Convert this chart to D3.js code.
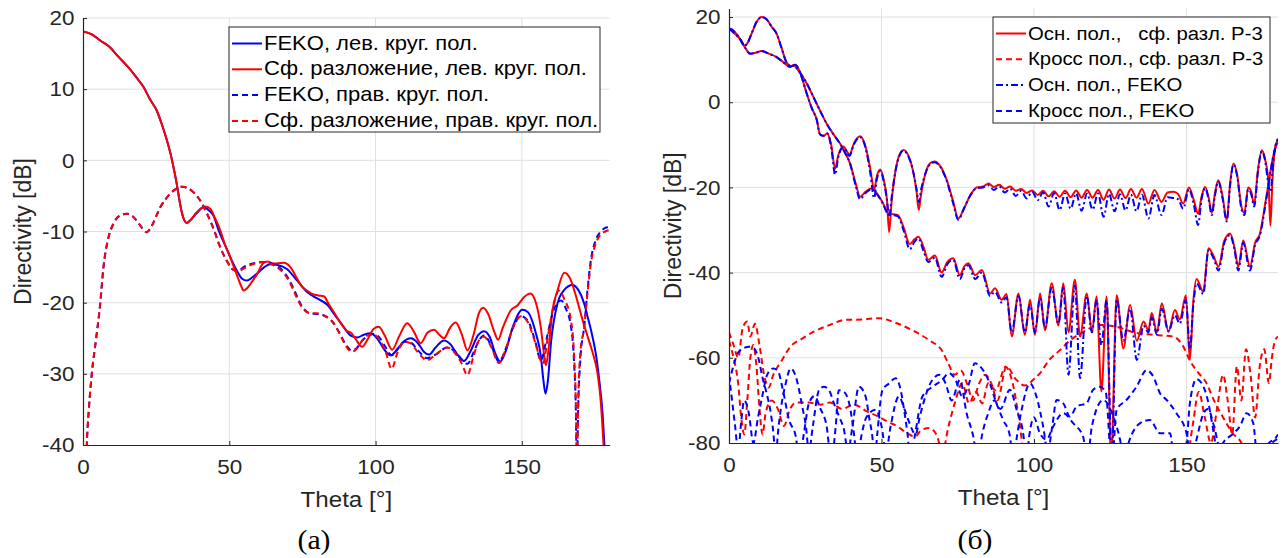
<!DOCTYPE html>
<html>
<head>
<meta charset="utf-8">
<script src="https://cdn.jsdelivr.net/npm/d3@7"></script>
<style>
body { margin: 0; background: #fff; }
svg { display: block; font-family: "Liberation Sans", Arial, sans-serif; }
</style>
</head>
<body>
<svg id="chart" width="1286" height="558"></svg>
<script>
// ---- tick labels ----
var thetaTicks = [0, 50, 100, 150];
var leftDbTicks = [-40, -30, -20, -10, 0, 10, 20];
var rightDbTicks = [-80, -60, -40, -20, 0, 20];

var leftLegend = ['FEKO, лев. круг. пол.', 'Сф. разложение, лев. круг. пол.',
                  'FEKO, прав. круг. пол.', 'Сф. разложение, прав. круг. пол.'];
var rightLegend = ['Осн. пол.,   сф. разл. Р-3', 'Кросс пол., сф. разл. Р-3',
                   'Осн. пол., FEKO', 'Кросс пол., FEKO'];

// ---- (a) left panel: [theta deg, dB] ----
var fekoLeftCirc = [[0,18.1],[3,17.7],[6,16.8],[9.2,15.9],[12,14.6],[15,13.3],[18,11.8],[20.7,10.3],[23,8.5],[25.2,7.0],[27,5.0],[28.7,2.8],[30,0.8],[30.9,-0.9],[32,-3.2],[32.8,-5.2],[33.7,-7.2],[34.6,-8.4],[35.5,-8.8],[36.5,-8.5],[38.9,-7.4],[41.2,-6.6],[43,-7.0],[44.6,-7.8],[46.5,-10],[49.2,-12.5],[51,-14.2],[52.6,-15.5],[54.3,-16.6],[56,-16.9],[57.7,-16.5],[59.5,-15.9],[62,-15.0],[64,-14.6],[66.5,-14.7],[69.8,-15.3],[73,-16.8],[76.6,-18.5],[80,-19.4],[83.5,-20.3],[86,-21.7],[89.1,-23.4],[91.4,-24.6],[93.7,-24.9],[96,-24.5],[98.3,-24.3],[100.5,-25.0],[103,-26.6],[105.1,-27.4],[107,-26.8],[109.5,-25.5],[112,-25.0],[114.5,-25.7],[116.5,-26.9],[118.3,-27.3],[120.5,-26.3],[123.4,-25.3],[125.5,-25.8],[128,-27.3],[130.2,-28.2],[132.5,-26.8],[135,-24.6],[137.1,-24.0],[139,-24.8],[141,-27.2],[142.6,-28.3],[144.5,-26.8],[147,-23.3],[150.2,-21.0],[152,-21.3],[154.8,-24.3],[156.5,-27.5],[157.4,-31.0],[158.1,-32.8],[158.9,-31.0],[160,-25.5],[162.2,-20.1],[164.5,-18.2],[167.3,-17.5],[169.3,-18.2],[171.3,-20.1],[172.5,-22.0],[174,-24.5],[175.3,-27.2],[176.5,-31.0],[177.6,-35.6],[178.3,-40.5],[179,-46]];

var sphLeftCirc = [[0,18.1],[3,17.7],[6,16.8],[9.2,15.9],[12,14.6],[15,13.3],[18,11.8],[20.7,10.3],[23,8.5],[25.2,7.0],[27,5.0],[28.7,2.8],[30,0.8],[30.9,-0.9],[32,-3.2],[32.8,-5.2],[33.7,-7.2],[34.6,-8.4],[35.5,-8.8],[36.5,-8.5],[38.9,-7.3],[41.8,-6.5],[43.5,-6.8],[45,-8.0],[46.9,-9.8],[48.5,-11.8],[50.3,-13.6],[52.5,-16.0],[54,-17.6],[54.9,-18.3],[56,-18.0],[57.5,-17.2],[59.5,-16.0],[61.3,-14.6],[62.9,-14.2],[65,-14.5],[68.6,-14.4],[70.9,-15.0],[73,-16.5],[75,-17.8],[76.6,-18.3],[78.5,-18.8],[80.5,-19.0],[82.3,-19.1],[84,-20.2],[85.7,-21.3],[88,-22.8],[90.3,-24.0],[91.5,-24.2],[93,-25.0],[95.4,-26.2],[97.5,-25.0],[99.3,-23.7],[101.1,-23.4],[103,-24.5],[105.7,-26.6],[108,-24.8],[110.8,-22.9],[113,-24.0],[115.4,-25.7],[117.8,-24.2],[120,-23.8],[121.8,-24.5],[123.4,-25.0],[125.5,-23.5],[127.4,-22.8],[129.5,-24.5],[131.4,-26.7],[133.5,-24.5],[135.3,-21.5],[136.8,-20.7],[138.5,-21.6],[140.5,-24.0],[141.9,-25.2],[143.5,-23.5],[146.2,-21.1],[148.5,-20.4],[150.8,-19.2],[152.9,-18.7],[154.8,-20.0],[156.5,-23.5],[157.5,-27.0],[158.2,-28.8],[159,-27.0],[160.5,-21.0],[162.2,-18.3],[164.5,-15.8],[166.5,-16.6],[168.8,-19.5],[170.8,-22.5],[172.3,-24.5],[173.6,-26.2],[175,-28.2],[175.9,-30.0],[177,-34.0],[177.9,-39.8],[178.6,-45]];

var fekoRightCirc = [[0.9,-46],[1.3,-40],[2,-35],[3,-30],[4.5,-25],[5.8,-20.5],[7,-15],[8.5,-11.2],[10.4,-8.9],[12.5,-7.8],[15,-7.5],[16.8,-7.8],[18.4,-8.5],[20.2,-9.5],[21.8,-10.1],[23.5,-9.2],[26.4,-6.6],[29.8,-4.7],[31.8,-4.0],[33.8,-3.7],[35.8,-3.9],[37.8,-4.5],[40,-5.6],[42.4,-7.5],[44.8,-9.8],[46.9,-12.2],[49,-14.0],[51.5,-15.4],[53,-15.5],[54.9,-15.0],[58,-14.5],[61.7,-14.3],[64.5,-14.5],[67.5,-15.2],[70.5,-16.8],[72.5,-18.5],[74.3,-20.1],[77.7,-21.5],[80,-21.6],[82.3,-21.8],[85.7,-22.9],[88,-24.5],[90,-26.0],[91.8,-26.7],[93.5,-26.4],[95.5,-25.3],[98,-24.5],[99.4,-24.4],[101.5,-25.0],[103.5,-26.3],[105.5,-27.4],[107.5,-26.5],[110,-25.5],[112,-25.6],[114.5,-26.7],[117.6,-27.8],[120.5,-27.3],[124.5,-26.3],[127,-26.8],[129.5,-28.0],[131.4,-28.6],[133.5,-27.0],[135.5,-25.2],[137.1,-24.6],[139.5,-26.0],[142.2,-28.3],[144.5,-26.5],[147,-23.5],[149.7,-21.9],[152,-22.5],[154.5,-25.3],[156.5,-28.1],[158.5,-25.0],[160.5,-21.5],[163.4,-19.7],[165,-20.8],[166.8,-23.4],[167.8,-28],[168.5,-36],[168.8,-45],[169.2,-36],[170,-28],[171.3,-23.4],[172.5,-18],[173.6,-14],[175,-11.5],[177,-10],[178.5,-9.5],[180,-9.3]];

var sphRightCirc = [[0.9,-46],[1.3,-40],[2,-35],[3,-30],[4.5,-25],[5.8,-20.5],[7,-15],[8.5,-11.2],[10.4,-8.9],[12.5,-7.8],[15,-7.5],[16.8,-7.8],[18.4,-8.5],[20.2,-9.5],[21.8,-10.1],[23.5,-9.2],[26.4,-6.6],[29.8,-4.7],[31.8,-4.0],[33.8,-3.7],[35.8,-3.9],[37.8,-4.5],[40,-5.6],[42.4,-7.5],[44.8,-9.8],[46.9,-12.2],[49,-14.0],[51.5,-15.4],[53,-15.6],[54.9,-15.2],[58,-14.6],[61.7,-14.3],[64.5,-14.6],[67.5,-15.4],[70.5,-17.0],[72.5,-18.8],[74.3,-20.3],[77.7,-21.5],[80,-21.5],[82.3,-21.8],[85.7,-22.9],[88,-24.6],[90,-26.2],[91.8,-26.9],[93.5,-26.5],[95.5,-25.3],[98,-24.5],[99.4,-24.5],[101.5,-25.3],[103.5,-27.0],[105.5,-29.3],[107.5,-27.0],[110,-25.5],[112,-25.7],[114.5,-27.0],[117.6,-28.1],[120.5,-27.3],[124.5,-26.3],[127,-27.0],[129.5,-28.6],[131.4,-30.2],[133.5,-27.5],[135.5,-25.2],[137.1,-24.8],[139.5,-26.2],[142.2,-28.5],[144.5,-26.5],[147,-23.5],[149.7,-21.9],[152,-22.7],[154.5,-25.5],[157.2,-28.6],[159,-24.5],[160.8,-20.5],[162.7,-18.3],[164.5,-19.5],[166.8,-22.5],[167.8,-27],[168.5,-35],[168.8,-45],[169.2,-35],[170,-27],[171.3,-23.5],[172.5,-18.5],[173.6,-14.5],[175,-12],[177,-10.4],[178.5,-10],[180,-9.8]];

// ---- (б) right panel: two cuts for each series ----
var coSphCutA = [[0,17.3],[1.5,16.8],[3,15.5],[4,14.3],[5,13.2],[6,13.8],[7.5,16.3],[9,18.8],[10.7,20],[12.3,19.5],[14,17.7],[15.6,16.1],[17.2,12.8],[18.9,9.3],[20.3,8.5],[21.7,8.8],[22.7,8],[24,5.5],[25.5,2],[27.2,-1.5],[28.8,-4.2],[29.8,-7.5],[31,-7.9],[32.2,-7.3],[33.5,-10],[34.8,-15.6],[35.8,-12.5],[37.5,-10.4],[39.5,-12.3],[41,-9.6],[43,-8],[44.8,-10.5],[46.3,-15.5],[47.6,-20.5],[48.5,-17.3],[49.6,-15.8],[50.8,-18.5],[51.8,-23],[52.5,-30.5],[53.3,-23.5],[54.5,-16.5],[55.8,-12.5],[57.2,-11.2],[58.8,-12.5],[60.3,-16],[61.5,-21],[62.2,-25.3],[63,-21.5],[64.5,-16.5],[66,-14.3],[67.4,-13.9],[69.3,-15],[71.4,-18.3],[73.4,-23],[75.2,-27.3],[77,-25],[79,-22],[81.2,-20],[83.3,-19.8],[85.1,-19.1],[86.8,-19.9],[88.6,-19.4],[90.4,-20.3],[92.2,-19.8],[94,-20.8],[95.8,-20.4],[97.6,-21.3],[99.4,-20.7],[101.2,-21.8],[103,-20.8],[104.8,-22.1],[106.6,-20.9],[108.4,-22.2],[110.2,-20.8],[112,-22.3],[113.8,-20.7],[115.6,-22.4],[117.4,-20.6],[119.2,-22.4],[121,-20.6],[122.8,-22.9],[124.6,-20.5],[126.4,-22.6],[128.2,-20.5],[130,-22.5],[131.8,-20.4],[133.6,-22.4],[135.4,-20.4],[137.5,-23.8],[139.5,-20.6],[141.8,-23.4],[143.8,-21.2],[145.7,-21],[147.3,-21.6],[148.9,-23.8],[150.8,-20],[152.4,-23],[153.8,-26.2],[155,-22],[156.1,-19.9],[157.3,-22.5],[158.3,-26],[159.3,-21.5],[160.4,-18.3],[161.8,-22],[163.2,-27.7],[164.3,-19],[165.4,-14.4],[166.6,-17],[168,-24.5],[169,-26],[170.2,-20],[171.2,-21],[172.2,-24],[173.4,-16],[174.7,-11.3],[175.8,-13.5],[176.9,-19],[177.5,-29],[178.2,-18],[179,-11],[180,-8.7]];

var coSphCutB = [[0,17.3],[2,16],[3.6,14.9],[5.3,12.8],[6.9,11.4],[8.7,11.6],[10.7,12],[13,11.4],[15.6,10.6],[17.8,9.4],[20,8.3],[21.3,8.6],[22.7,7.5],[25.5,4.4],[28.3,0.3],[30,-2.2],[32,-5],[34.2,-7.5],[36.4,-9.7],[38,-11.8],[39.7,-14.4],[41.5,-19],[43,-22.2],[44.8,-21],[46.8,-20.2],[48.6,-21.5],[50.5,-23.7],[52.2,-26.1],[53.8,-26.3],[55.4,-26.5],[57.2,-29.3],[59.3,-33.3],[60.8,-32.2],[62.1,-31.6],[63.8,-34],[65.3,-37],[67.5,-36],[69.7,-40],[71.6,-37.5],[73.5,-36.6],[75.7,-40.6],[77.2,-38.5],[78.5,-37.8],[80.7,-40.6],[82.9,-39.4],[85.6,-44.9],[87.2,-43.7],[89.4,-46.4],[91,-45],[92.7,-55],[94.9,-44.9],[97,-54.6],[98.7,-46.4],[100.3,-54.6],[102,-44.9],[103.6,-53.5],[105.8,-42.5],[108,-52.4],[109.6,-42.5],[111.3,-54],[113.4,-41.7],[115.1,-55],[117.3,-44.9],[119,-54],[120.5,-45.6],[122.1,-67.9],[123.8,-45.6],[125.3,-84],[127.1,-45.3],[129.3,-57.8],[131.5,-47.6],[133.7,-56],[135.9,-51.5],[137.5,-53.5],[138.6,-49.5],[140.3,-54],[141.9,-47.2],[144.1,-53.8],[146.2,-48.8],[147.8,-51],[149.8,-45.3],[151.1,-60.5],[152.2,-47],[153.3,-41.5],[155.5,-44.5],[157.2,-34.3],[158.8,-36],[160.5,-38.6],[162.4,-32.5],[164.3,-30.8],[165.7,-34],[167,-38.6],[168.6,-32.4],[170.8,-38.6],[172.5,-33],[174.1,-30.8],[176,-23],[178.5,-12.5],[180,-8.8]];

var coFekoCutA = [[0,17.3],[1.5,16.8],[3,15.5],[4,14.3],[5,13.2],[6,13.8],[7.5,16.3],[9,18.8],[10.7,20],[12.3,19.5],[14,17.7],[15.6,16.1],[17.2,12.8],[18.9,9.3],[20.3,8.5],[21.7,8.8],[22.7,8],[24,5.5],[25.5,2],[27.2,-1.5],[28.8,-4.2],[29.8,-7.5],[31,-7.9],[32.2,-7.3],[33.5,-10.5],[34.8,-17],[35.8,-13],[37.5,-10.6],[39.5,-12.6],[41,-9.8],[43,-8.2],[44.8,-10.8],[46.3,-16.5],[47.6,-22.5],[48.5,-18],[49.6,-16.2],[50.8,-18.8],[51.8,-23],[52.5,-27],[53.3,-22.5],[54.5,-16.5],[55.8,-12.7],[57.2,-11.4],[58.8,-12.7],[60.3,-16],[61.5,-20.5],[62.2,-23.5],[63,-20.5],[64.5,-16.5],[66,-14.5],[67.4,-14.1],[69.3,-15.2],[71.4,-18.5],[73.4,-23.5],[75.2,-27.6],[77,-25],[79,-22],[81.2,-20.2],[83.3,-20],[85.1,-19.5],[86.8,-20.6],[88.6,-19.8],[90.4,-21.2],[92.2,-20.3],[94,-22],[95.8,-20.8],[97.6,-22.6],[99.4,-21],[101.2,-23],[103,-21.2],[104.8,-24.5],[106.6,-21.3],[108.4,-25.3],[110.2,-21.4],[112,-25],[113.8,-21.4],[115.6,-25.5],[117.4,-21.4],[119.2,-25.2],[121,-21.4],[122.8,-26.9],[124.6,-21.5],[126.4,-25.6],[128.2,-21.6],[130,-25.4],[131.8,-21.7],[133.6,-25.6],[135.4,-21.7],[137.5,-27.3],[139.5,-21.8],[141.8,-26.5],[143.8,-22.3],[145.7,-22.5],[147.3,-22.8],[148.9,-25],[150.8,-20.4],[152.4,-24],[153.8,-28.8],[155,-22.5],[156.1,-20.2],[157.3,-23],[158.3,-26.5],[159.3,-22],[160.4,-18.6],[161.8,-22.5],[163.2,-28],[164.3,-19.5],[165.4,-14.6],[166.6,-17.3],[168,-25],[169,-26.5],[170.2,-20.5],[171.2,-21.5],[172.2,-24.5],[173.4,-16.5],[174.7,-11.5],[175.8,-13.8],[176.9,-19.5],[177.6,-21],[178.3,-15],[179,-10.8],[180,-8.6]];

var coFekoCutB = [[0,17.3],[2,16],[3.6,14.9],[5.3,12.8],[6.9,11.4],[8.7,11.6],[10.7,12],[13,11.4],[15.6,10.6],[17.8,9.4],[20,8.3],[21.3,8.6],[22.7,7.5],[25.5,4.4],[28.3,0.3],[30,-2.2],[32,-5],[34.2,-7.5],[36.4,-9.7],[38,-11.8],[39.7,-14.4],[41.5,-19.5],[43,-22.8],[44.8,-21.3],[46.8,-20.4],[48.6,-21.7],[50.5,-23.9],[52.2,-26.3],[53.8,-26.5],[55.4,-26.8],[57.2,-30],[59.3,-34.5],[60.8,-32.8],[62.1,-32],[63.8,-35],[65.3,-37.5],[67.5,-36.5],[69.7,-41],[71.6,-38],[73.5,-37],[75.7,-41.5],[77.2,-39],[78.5,-38.3],[80.7,-41.5],[82.9,-40],[85.6,-45.5],[87.2,-44.5],[89.4,-47],[91,-45.8],[92.7,-54],[94.9,-45.5],[97,-54],[98.7,-47.5],[100.3,-54],[102,-46],[103.6,-53],[105.8,-43.5],[108,-52],[109.6,-43.5],[111.3,-64],[113.4,-43],[115.1,-64.8],[117.3,-45.5],[119,-54],[120.5,-46.5],[122.1,-57],[123.8,-46.5],[125.5,-84],[127.1,-46.3],[129.3,-56],[131.5,-48.5],[133.7,-60.5],[135.9,-52.5],[137.5,-54],[138.6,-50.5],[140.3,-54.5],[141.9,-48.5],[144.1,-53.8],[146.2,-50],[147.8,-52],[149.8,-46.5],[151.1,-58],[152.2,-48],[153.3,-42.5],[155.5,-45],[157.2,-34.8],[158.8,-36.5],[160.5,-39.5],[162.4,-33],[164.3,-31.2],[165.7,-34.5],[167,-39.5],[168.6,-33],[170.8,-39.5],[172.5,-33.5],[174.1,-31.2],[176,-23.5],[178.5,-12.5],[180,-8.8]];

var crossSphCutA = [[0,-54],[1.5,-57],[3,-60],[4.5,-53],[6,-51.5],[7,-55],[8.5,-52],[10,-57],[11.5,-64],[13,-67],[14.5,-64],[17,-61],[20,-57.5],[24,-55.5],[28,-53.8],[33,-52.3],[38,-51.1],[44,-51],[49,-50.7],[55,-51.9],[60,-53.5],[65.5,-55.8],[70,-58.5],[72,-61.5],[74,-64],[76,-63],[78,-66],[80,-70],[82,-66],[84,-64],[86,-66],[88,-70],[91,-62],[94,-65],[97,-66.5],[100,-65],[102,-63.6],[105,-60.5],[108.5,-58.2],[112,-55.8],[116,-54],[121.6,-52.3],[127,-52.7],[132.5,-54],[139,-54.6],[145.6,-55],[149,-57.4],[151,-60.5],[153.3,-63],[156.6,-66],[159,-70],[162,-74],[165,-77.6],[168,-80],[170,-84]];

var crossSphCutB = [[0,-56],[1.5,-60],[3,-66],[4,-74],[5,-78],[6,-70],[7,-60],[8,-57],[9,-62],[10,-72],[11,-78],[12,-73],[14,-70],[16,-72],[18,-76],[20,-72],[22,-70.5],[26,-70.5],[30,-71],[33,-70.5],[37,-72],[41,-71],[45,-72.5],[49,-73.8],[52,-75],[55,-76],[58,-77.5],[61,-78.5],[63,-77],[65.6,-76.5],[68,-78],[70,-82],[72,-76],[74,-70.7],[76.5,-66],[78.7,-70.7],[81,-68],[83,-70.7],[85,-66],[87.4,-67.6],[90.7,-62.1],[93,-66],[95,-74],[97,-84],[100,-88],[140,-88],[150,-84],[152,-76],[154,-68],[156,-74],[158,-80],[160,-72],[162,-64],[163.5,-70],[165,-78],[166.5,-62],[168,-70],[169.5,-58],[171,-64],[172.5,-74],[174,-62],[175.5,-58],[177,-66],[178,-60],[179,-56],[180,-55]];

var crossFekoCutA = [[0,-66],[1.1,-62.8],[3.3,-58.5],[6.6,-57.4],[8.2,-57.8],[9.8,-60.5],[10.9,-64.4],[12.6,-69.1],[13.7,-73],[14.6,-78],[15.3,-84],[16,-78],[17,-72],[18.6,-66],[20.2,-62.5],[21.9,-64.4],[23,-67.6],[24,-71.4],[25.2,-76],[26.2,-82],[27.5,-76],[29.5,-67.6],[31.1,-66.8],[32.8,-67.6],[34.4,-70.7],[36.1,-73.8],[37.7,-76.9],[39,-82],[40.5,-76],[42.6,-66.8],[44.8,-69.1],[45.9,-73.8],[47,-78.5],[47.8,-84],[48.6,-78],[50.3,-67.6],[52.5,-66],[54.6,-64.8],[56.3,-67.6],[57.4,-72.2],[58.5,-77.7],[59.5,-84],[61,-78],[63.4,-69.1],[66.7,-66.8],[69.9,-65.2],[72.1,-63.6],[74.3,-65.2],[76.5,-69.1],[78.7,-66],[80.6,-61.3],[83.3,-62.9],[85.5,-66],[87.7,-70.7],[89.9,-74.6],[92,-78],[93.2,-84],[94.5,-78],[96,-72],[98.7,-66],[100.8,-69.1],[103,-76.1],[104.5,-82],[106,-76],[107.4,-69.9],[109.6,-70.7],[111.8,-73.8],[114,-71.4],[117.2,-70.7],[119.4,-67.5],[121.6,-66.8],[123.5,-68],[125.5,-85],[127.1,-72.2],[130.3,-69.9],[133.6,-66.8],[136.9,-62.9],[139.1,-64.4],[141.3,-68.3],[143.5,-69.9],[146.7,-73],[150,-77.7],[151.5,-84],[153,-80],[155.6,-73],[157,-72],[159,-76],[161,-82],[162,-84],[163.5,-80],[165,-84],[167,-84],[169,-80],[171,-84],[175,-84],[178,-80],[180,-79]];

var crossFekoCutB = [[0,-64],[1,-70],[2,-76],[3,-82],[4,-75],[5,-70],[6.5,-73],[8,-80],[9.5,-74],[10.9,-69.1],[12.5,-64],[14.5,-62.5],[16,-63],[17.5,-67],[19.7,-74.6],[21.9,-78.5],[23,-84],[24.5,-78],[26.2,-70.7],[28,-69],[30,-72],[32,-76],[33.5,-84],[35,-76],[36,-67.6],[37.7,-68],[39.5,-71],[41,-78],[42,-84],[43.5,-78],[45,-74],[48.1,-72.2],[50,-76],[51.5,-82],[53,-76],[55.7,-69.1],[57.5,-72],[59,-75],[61.2,-78],[62.5,-74],[64,-70],[66,-66],[69,-64],[71,-66],[73,-70],[75.7,-65.2],[77.9,-73],[80.1,-78.5],[81.5,-84],[83,-78],[85,-73],[87,-70],[89,-72],[92.1,-67.5],[94.3,-72.2],[96.5,-78],[97.5,-84],[98.5,-78],[100,-74],[101.9,-77.7],[104.1,-79.2],[106.3,-76.1],[109.6,-73],[112.9,-75.4],[116.1,-78.5],[117.5,-84],[119,-76],[122.7,-69.9],[126,-73.8],[128.2,-79.2],[129.5,-84],[131,-80],[134.7,-75.4],[138,-74.6],[141.3,-77.7],[144.6,-77.7],[146,-84],[148,-84],[150,-80],[151.1,-70.7],[153.3,-65],[155,-66],[157,-70],[159,-78],[160.5,-84],[162,-80],[165,-78],[167.5,-76.1],[169.7,-73],[171.9,-75.4],[173,-82],[175,-84],[177,-80],[179,-79],[180,-78]];

// ---- drawing ----
var svg = d3.select('#chart');
var axisColor = '#262626';
var gridColor = '#e0e0e0';
var dashed = '6,4';
var dashDot = '7,3,2,3';
var sansFont = '"Liberation Sans", Arial, sans-serif';

// text placed at (x,y), slightly widened like the original figure
function wideText(parent, x, y, size, sx, str) {
    return parent.append('text')
        .attr('transform', 'translate(' + x + ',' + y + ') scale(' + sx + ',1)')
        .attr('font-size', size).text(str);
}

function drawPanel(p) {
    var x = d3.scaleLinear().domain([0, 180]).range([p.left, p.right]);
    var y = d3.scaleLinear().domain(p.yDomain).range([p.bottom, p.top]);
    var g = svg.append('g');

    // grid
    g.selectAll('line.gx').data(thetaTicks.slice(1)).enter().append('line')
        .attr('x1', function(d) { return x(d); }).attr('x2', function(d) { return x(d); })
        .attr('y1', p.top).attr('y2', p.bottom)
        .attr('stroke', gridColor).attr('stroke-width', 1);
    g.selectAll('line.gy').data(p.yTicks.slice(1)).enter().append('line')
        .attr('x1', p.left).attr('x2', p.right)
        .attr('y1', function(d) { return y(d); }).attr('y2', function(d) { return y(d); })
        .attr('stroke', gridColor).attr('stroke-width', 1);

    // curves
    svg.append('clipPath').attr('id', 'clip' + p.id).append('rect')
        .attr('x', p.left).attr('y', p.top)
        .attr('width', p.right - p.left).attr('height', p.bottom - p.top);

    var line = d3.line()
        .x(function(d) { return x(d[0]); })
        .y(function(d) { return y(d[1]); })
        .curve(d3.curveMonotoneX);

    var paths = [];
    p.series.forEach(function(s) {
        s.data.forEach(function(arr) { paths.push({ arr: arr, color: s.color, dash: s.dash }); });
    });

    g.append('g').attr('clip-path', 'url(#clip' + p.id + ')')
        .selectAll('path').data(paths).enter().append('path')
        .attr('d', function(d) { return line(d.arr); })
        .attr('fill', 'none')
        .attr('stroke', function(d) { return d.color; })
        .attr('stroke-width', 2)
        .attr('stroke-dasharray', function(d) { return d.dash; });

    // axes
    var fmt = function(d) { return String(d); };
    var xAxis = g.append('g').attr('transform', 'translate(0,' + p.bottom + ')')
        .call(d3.axisBottom(x).tickValues(thetaTicks).tickFormat(fmt)
            .tickSizeInner(-4).tickSizeOuter(0).tickPadding(14));
    var yAxis = g.append('g').attr('transform', 'translate(' + p.left + ',0)')
        .call(d3.axisLeft(y).tickValues(p.yTicks).tickFormat(fmt)
            .tickSizeInner(-4).tickSizeOuter(0).tickPadding(8));
    [xAxis, yAxis].forEach(function(a) {
        a.select('.domain').attr('stroke', axisColor).attr('stroke-width', 1.2);
        a.selectAll('.tick line').attr('stroke', axisColor);
        a.selectAll('.tick text').attr('fill', axisColor)
            .attr('font-size', 21).attr('font-family', sansFont)
            .attr('transform', 'scale(1.07,1)');
    });

    // labels
    wideText(g, (p.left + p.right) / 2, p.bottom + 62, 22, 1.1, 'Theta [°]')
        .attr('text-anchor', 'middle').attr('fill', axisColor);
    g.append('text')
        .attr('transform', 'translate(' + p.yLabelX + ',' + (p.top + p.bottom) / 2 + ') rotate(-90)')
        .attr('text-anchor', 'middle').attr('font-size', 23).attr('fill', axisColor)
        .text('Directivity [dB]');
    wideText(g, p.captionX, 549, 27, 1.1, p.caption)
        .attr('text-anchor', 'middle')
        .attr('font-family', '"Liberation Serif", "Times New Roman", serif')
        .attr('fill', '#000');

    // legend
    var L = p.legend;
    var lg = g.append('g').attr('transform', 'translate(' + L.x + ',' + L.y + ')');
    lg.append('rect').attr('width', L.w).attr('height', L.h)
        .attr('fill', '#fff').attr('stroke', axisColor).attr('stroke-width', 1);
    p.series.forEach(function(s, i) {
        var by = 22.5 + i * 25.8;
        lg.append('line').attr('x1', 3).attr('x2', 33).attr('y1', by - 6).attr('y2', by - 6)
            .attr('stroke', s.color).attr('stroke-width', 2).attr('stroke-dasharray', s.dash);
        wideText(lg, 35, by, L.size, L.sx, L.labels[i])
            .attr('fill', '#000').style('white-space', 'pre');
    });
}

drawPanel({
    id: 'a', left: 83, right: 609.6, top: 18, bottom: 445,
    yDomain: [-40, 20], yTicks: leftDbTicks, yLabelX: 31, caption: '(a)', captionX: 314,
    series: [
        { data: [fekoLeftCirc], color: '#0000ff', dash: null },
        { data: [sphLeftCirc], color: '#ff0000', dash: null },
        { data: [fekoRightCirc], color: '#0000ff', dash: dashed },
        { data: [sphRightCirc], color: '#ff0000', dash: dashed }
    ],
    legend: { x: 229, y: 27, w: 371, h: 105, labels: leftLegend, size: 20, sx: 1.1 }
});

drawPanel({
    id: 'b', left: 729, right: 1278, top: 8.5, bottom: 443,
    yDomain: [-80, 22], yTicks: rightDbTicks, yLabelX: 681, caption: '(б)', captionX: 975,
    series: [
        { data: [coSphCutA, coSphCutB], color: '#ff0000', dash: null },
        { data: [crossSphCutA, crossSphCutB], color: '#ff0000', dash: dashed },
        { data: [coFekoCutA, coFekoCutB], color: '#0000ff', dash: dashDot },
        { data: [crossFekoCutA, crossFekoCutB], color: '#0000ff', dash: dashed }
    ],
    legend: { x: 993, y: 17, w: 277, h: 106, labels: rightLegend, size: 19, sx: 1.07 }
});
</script>
</body>
</html>
